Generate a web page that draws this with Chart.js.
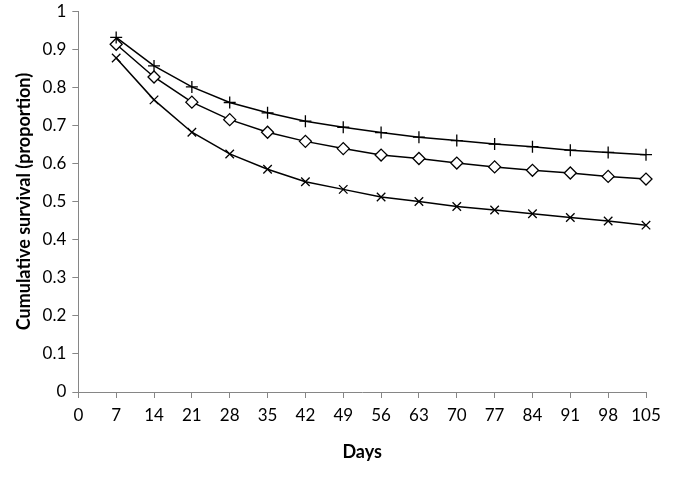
<!DOCTYPE html>
<html>
<head>
<meta charset="utf-8">
<script src="https://cdn.jsdelivr.net/npm/chart.js@4"></script>
<style>
  html, body { margin: 0; padding: 0; background: #fff; }
  #wrap { width: 700px; height: 492px; }
</style>
</head>
<body>
<div id="wrap"><canvas id="mainChart" width="700" height="492"></canvas></div>
<script>
const days = [7, 14, 21, 28, 35, 42, 49, 56, 63, 70, 77, 84, 91, 98, 105];

const plusSeries = [0.931, 0.856, 0.801, 0.760, 0.733, 0.711, 0.695, 0.681, 0.669, 0.660, 0.651, 0.644, 0.635, 0.629, 0.623];
const diamondSeries = [0.913, 0.827, 0.761, 0.715, 0.682, 0.658, 0.639, 0.622, 0.613, 0.601, 0.591, 0.582, 0.575, 0.566, 0.559];
const crossSeries = [0.877, 0.767, 0.682, 0.625, 0.585, 0.552, 0.532, 0.512, 0.500, 0.487, 0.478, 0.468, 0.458, 0.449, 0.438];

const xTicks = [0, 7, 14, 21, 28, 35, 42, 49, 56, 63, 70, 77, 84, 91, 98, 105];
const yTicks = [0, 0.1, 0.2, 0.3, 0.4, 0.5, 0.6, 0.7, 0.8, 0.9, 1];

const toPoints = vals => days.map((d, i) => ({ x: d, y: vals[i] }));

const fontFamily = "Lato, 'Open Sans', sans-serif";
const axisGrey = "#868686";

const makeSet = (label, vals, style, radius) => ({
  label,
  data: toPoints(vals),
  borderColor: "#000",
  borderWidth: 1.5,
  backgroundColor: "#fff",
  pointStyle: style,
  pointRadius: radius,
  pointBorderColor: "#000",
  pointBackgroundColor: "#fff",
  pointBorderWidth: 1.3,
  tension: 0,
  clip: false
});

new Chart(document.getElementById("mainChart"), {
  type: "line",
  data: {
    datasets: [
      makeSet("A", plusSeries, "cross", 6),
      makeSet("B", diamondSeries, "rectRot", 6),
      makeSet("C", crossSeries, "crossRot", 6)
    ]
  },
  options: {
    responsive: false,
    animation: false,
    layout: { padding: { left: 9, right: 54, top: 0, bottom: 25 } },
    plugins: {
      legend: { display: false },
      tooltip: { enabled: false }
    },
    scales: {
      x: {
        type: "linear",
        min: 0,
        max: 105,
        afterBuildTicks: axis => { axis.ticks = xTicks.map(v => ({ value: v })); },
        ticks: {
          color: "#000",
          font: { family: fontFamily, size: 17 },
          padding: 7,
          maxRotation: 0
        },
        grid: { drawOnChartArea: false, color: axisGrey, tickLength: 6 },
        border: { color: axisGrey, width: 1 },
        title: {
          display: true,
          text: "Days",
          color: "#000",
          font: { family: fontFamily, size: 18, weight: "bold" },
          padding: { top: 9 }
        }
      },
      y: {
        min: 0,
        max: 1,
        afterBuildTicks: axis => { axis.ticks = yTicks.map(v => ({ value: v })); },
        ticks: {
          color: "#000",
          font: { family: fontFamily, size: 17, lineHeight: 0.6 },
          padding: 6,
          callback: v => String(Math.round(v * 10) / 10)
        },
        grid: { drawOnChartArea: false, color: axisGrey, tickLength: 6 },
        border: { color: axisGrey, width: 1 },
        title: {
          display: true,
          text: "Cumulative survival (proportion)",
          color: "#000",
          font: { family: fontFamily, size: 18, weight: "bold" },
          padding: { bottom: 2 }
        }
      }
    }
  }
});
</script>
</body>
</html>
